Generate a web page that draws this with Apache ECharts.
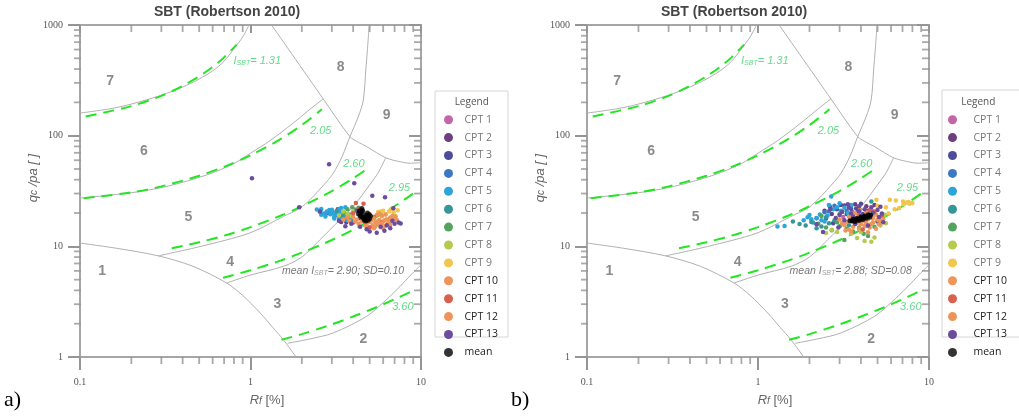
<!DOCTYPE html>
<html><head><meta charset="utf-8">
<script src="https://cdn.jsdelivr.net/npm/echarts@6/dist/echarts.min.js"></script>
<style>html,body{margin:0;padding:0;background:#fff}#c{width:1019px;height:420px}</style>
</head><body><div id="c"></div>
<script>
// ---------- axes / ticks ----------
const xTickValues = [0.1, 1, 10];
const yTickValues = [1, 10, 100, 1000];
const xMinorTicks = [0.2,0.3,0.4,0.5,0.6,0.7,0.8,0.9,2,3,4,5,6,7,8,9];
const yMinorTicks = [2,3,4,5,6,7,8,9,20,30,40,50,60,70,80,90,200,300,400,500,600,700,800,900];

// ---------- SBT zone boundaries [Rf %, qc/pa] ----------
const bnd67 = [[0.1,160],[0.15,175],[0.2,193],[0.3,232],[0.4,275],[0.5,325],[0.6,385],[0.7,470],[0.8,610],[0.9,780],[0.98,1000]];
const bnd56 = [[0.1,27.3],[0.2,30.5],[0.32,34.7],[0.55,44],[0.8,56],[1.0,69.5],[1.3,90],[1.78,130],[2.2,170],[2.67,215]];
const bnd1  = [[0.1,10.7],[0.164,9.6],[0.288,8.2],[0.46,6.6],[0.725,4.66],[0.9,3.6],[1.14,2.5],[1.35,1.85],[1.56,1.43],[1.85,1.0]];
const bnd45 = [[0.288,8.2],[0.506,9.96],[0.99,13.2],[1.557,18.6],[1.95,22.1],[2.23,26.3],[2.8,38.5],[3.06,45.8],[3.45,65],[3.83,98],[4.3,150],[4.59,210],[4.75,400],[4.85,600],[4.97,1000]];
const bnd34 = [[0.725,4.66],[1.0,5.5],[1.56,6.6],[2.0,8.0],[2.56,11.5],[3.35,17.4],[4.01,22.9],[5.0,36],[5.6,46],[6.2,63]];
const bnd23 = [[1.65,1.33],[2.2,1.45],[3.06,1.65],[4.8,2.33],[6.0,3.1],[7.53,4.34],[8.8,5.6],[10,6.8]];
const bnd8  = [[1.33,1000],[2.67,215],[3.83,98],[4.3,87],[4.8,79.7],[5.5,70],[6.29,62.6],[7.4,58.5],[8.62,56.4],[10,57]];

// ---------- I_SBT contours (dashed) ----------
const ic131 = [[0.108,149],[0.2,185],[0.3,229],[0.4,282],[0.5,344],[0.6,418],[0.7,510],[0.83,665]];
const ic205 = [[0.105,27.2],[0.2,30.7],[0.3,34.8],[0.5,43.4],[0.7,52.3],[1.0,66.4],[1.5,93.1],[2.0,124.6],[2.62,173]];
const ic260 = [[0.345,9.6],[0.5,10.9],[0.7,12.5],[1.0,14.9],[1.5,18.9],[2.0,23.0],[3.0,31.6],[4.0,41.2],[4.8,49.7]];
const ic295 = [[0.69,5.2],[1.0,6.08],[1.5,7.43],[2.0,8.76],[3.0,11.4],[4.0,14.1],[5.0,17.0],[6.0,19.9],[7.5,24.7],[9.2,30.7]];
const ic360 = [[1.52,1.43],[2.0,1.61],[3.0,1.97],[4.0,2.32],[5.0,2.66],[6.0,2.99],[7.5,3.49],[9.2,4.06]];

// ---------- text labels ----------
const zoneNames = ['7','8','9','6','5','4','1','3','2'];
const zonePos = [[0.15,308],[3.38,415],[6.29,154],[0.237,71.8],[0.432,18.4],[0.759,7.2],[0.135,5.93],[1.436,3.03],[4.59,1.46]];
const icNames = ['{i|I}{s|SBT}= 1.31','2.05','2.60','2.95','3.60'];
const icPos = [[0.79,476],[2.22,111],[3.47,55.6],[6.43,33.6],[6.73,2.86]];
const meanTextA = 'mean {i|I}{s|SBT}= 2.90; SD=0.10';
const meanTextB = 'mean {i|I}{s|SBT}= 2.88; SD=0.08';
const meanTextPos = [1.52, 5.93];

// ---------- series ----------
const cptNames = ['CPT 1','CPT 2','CPT 3','CPT 4','CPT 5','CPT 6','CPT 7','CPT 8','CPT 9','CPT 10','CPT 11','CPT 12','CPT 13'];
const cptColors = ['#c465a8','#6d3f7f','#4f4c9c','#3c78c2','#2ba5da','#37969a','#55a35f','#b5cb4f','#f2c54c','#ee955a','#d8604f','#ef9459','#6b4d9e'];

// Panel a) points, per CPT
const a_cpt1 = [[3.85,19.4],[4.6,17.1]];
const a_cpt2 = [[3.4,16.6],[3.25,21.6],[4.4,17.9]];
const a_cpt3 = [[3.15,19.2],[3.5,18.2],[4.0,16.4],[3.65,16.5]];
const a_cpt4 = [[3.0,20.9],[3.3,21.2],[3.6,19.6],[2.85,19.9]];
const a_cpt5 = [[2.45,21.5],[2.55,20.5],[2.6,21.8],[2.7,19.8],[2.8,20.6],[2.9,21.3],[2.95,19.5],[3.05,20.2],[3.1,18.6],[3.2,19.8],[3.3,18.2],[3.35,20.5],[3.45,19],[3.55,17.6],[3.6,18.8],[3.7,17.2],[3.1,17.8],[2.75,18.6],[3.8,18.3],[2.6,19.3],[3.0,21.4],[3.3,21.6],[3.4,22.2],[3.6,22.6]];
const a_cpt6 = [[3.45,18.5],[3.75,17.9],[3.2,20.9],[3.9,17.3]];
const a_cpt7 = [[3.95,22.6],[4.3,22.3],[4.1,21.5],[3.7,21.6],[4.5,21.2],[3.55,20.0]];
const a_cpt8 = [[3.5,20.8],[3.7,19.6],[4.0,20.8],[3.9,18.8],[3.3,19.0]];
const a_cpt9 = [[6.0,21.0],[6.5,20.6],[6.9,20.3],[7.3,21.2],[6.2,19.5],[5.6,20.4],[7.0,19.0],[6.7,21.9],[5.8,20.6]];
const a_cpt10 = [[4.2,17.5],[4.5,16.8],[4.8,16.2],[5.1,17.0],[5.4,16.5],[5.7,17.4],[6.0,16.8],[6.3,17.6],[6.6,18.2],[6.9,17.8],[5.2,15.5],[5.6,15.8],[4.6,18.2],[5.9,18.8],[6.4,16.2],[4.9,15.0],[5.3,14.6],[5.8,14.9],[6.2,15.3],[4.0,18.4],[3.8,17.0],[7.1,18.6],[6.7,16.8],[5.0,19.5],[5.5,19.2]];
const a_cpt11 = [[4.15,24.6],[4.6,24.2],[4.3,21.8],[5.3,18.4],[4.7,16.5],[5.9,16.4],[4.0,19.9],[5.0,14.8]];
const a_cpt12 = [[4.3,16.0],[4.7,15.4],[5.0,16.6],[5.3,17.8],[5.6,16.9],[5.9,16.1],[6.1,17.2],[6.5,17.0],[6.8,18.8],[7.2,17.4],[4.4,19.0],[5.7,19.8],[6.2,19.4],[4.1,16.8],[3.7,18.2],[5.4,15.2],[6.0,14.7],[6.6,15.6],[4.9,17.6],[3.5,17.5]];
const a_cpt13 = [[1.02,41.3],[2.89,55.3],[4.06,37.2],[5.18,28.6],[6.15,27.8],[1.93,22.6],[2.56,20.6],[6.88,22.1],[5.0,13.6],[5.5,13.3],[6.1,13.8],[6.6,14.6],[7.0,16.0],[7.4,16.4],[7.6,16.1],[6.8,17.0],[4.4,15.0],[3.9,16.0],[3.6,15.2],[4.8,14.3],[5.8,15.0],[6.3,15.5],[3.3,17.0],[4.2,21.0]];
const a_mean = [[4.3,19.6],[4.45,20.4],[4.5,18.5],[4.6,19.3],[4.7,18.0],[4.8,19.0],[4.9,18.4],[5.0,17.8],[4.65,17.3],[4.85,20.0],[4.4,18.9],[4.55,21.0],[4.95,19.4],[5.05,18.8],[4.75,16.9],[4.6,17.9],[4.9,17.2],[4.35,20.9],[4.5,22.0]];

// Panel b) points, per CPT
const b_cpt1 = [[3.55,20.6],[4.25,16.7],[3.15,18.4],[4.7,20.8]];
const b_cpt2 = [[2.7,19.6],[3.05,23.6],[3.7,24.0],[4.3,23.0],[4.8,23.6],[3.8,17.0],[2.45,21.0],[5.0,16.8]];
const b_cpt3 = [[2.63,22.9],[2.9,21.6],[3.2,23.4],[3.5,21.9],[3.3,19.6],[3.75,22.0],[4.1,19.6],[2.5,17.8],[4.0,24.3],[4.6,19.0],[3.85,20.6],[4.4,21.0],[2.75,16.2]];
const b_cpt4 = [[2.45,20.3],[2.6,20.8],[2.8,23.3],[3.1,20.6],[2.2,17.9],[3.5,22.9],[3.3,21.0]];
const b_cpt5 = [[1.3,15.1],[1.43,15.3],[1.95,18.3],[2.05,17.6],[2.2,18.0],[2.35,17.2],[2.68,28.2],[2.75,21.6],[2.9,22.6],[3.05,21.0],[3.2,22.3],[2.55,19.0],[2.3,19.4],[3.35,20.0],[2.45,16.8],[2.1,16.4],[1.85,17.2],[2.0,19.2],[2.6,23.6],[3.5,23.6],[3.0,24.5]];
const b_cpt6 = [[1.75,15.9],[1.9,15.4],[2.05,16.6],[2.35,15.1],[2.6,16.2],[2.8,17.2],[4.6,25.4],[3.4,15.5],[2.2,14.6],[2.5,18.3],[3.0,15.2],[1.6,16.8]];
const b_cpt7 = [[2.25,16.0],[2.5,14.8],[2.9,16.5],[3.3,14.4],[3.6,13.6],[3.9,14.8],[4.4,12.4],[3.2,11.4],[3.0,19.6],[4.8,15.0],[2.7,14.0],[2.35,18.8],[3.45,17.8],[4.15,13.0]];
const b_cpt8 = [[2.7,14.1],[2.9,13.5],[3.8,11.9],[4.2,11.2],[4.6,11.0],[4.8,12.0],[5.3,17.8],[5.6,16.2],[5.5,19.3],[3.5,13.0],[4.0,13.5],[5.2,15.4],[2.5,13.2]];
const b_cpt9 = [[4.93,26.3],[5.9,26.3],[6.4,25.9],[7.05,25.4],[7.4,24.9],[7.7,24.3],[8.0,24.6],[6.7,22.2],[6.3,21.6],[5.3,18.0],[5.6,22.5],[7.1,24.0],[7.6,25.1],[5.8,19.8],[5.0,23.2]];
const b_cpt10 = [[3.0,17.5],[3.3,16.6],[3.5,17.4],[3.8,16.3],[4.1,16.9],[4.4,17.6],[4.7,16.5],[5.0,17.4],[3.6,15.0],[3.9,14.5],[4.2,15.3],[4.5,14.8],[3.2,15.5],[4.9,19.3],[4.3,20.4],[3.7,19.9],[5.2,17.0],[3.4,14.2]];
const b_cpt11 = [[3.9,19.0],[4.2,18.4],[4.8,20.5],[3.6,16.8],[4.5,21.2],[5.3,18.9],[4.1,14.2]];
const b_cpt12 = [[3.1,16.2],[3.4,18.6],[3.8,18.2],[4.0,15.8],[4.3,16.2],[4.6,15.9],[4.9,14.4],[5.1,15.8],[3.5,13.6],[4.4,13.4],[3.95,21.5],[4.7,18.0],[5.4,17.6],[3.25,13.9]];
const b_cpt13 = [[2.85,18.0],[3.0,19.2],[3.2,17.2],[3.6,18.6],[3.9,20.8],[4.2,21.6],[4.6,22.5],[5.0,21.3],[5.1,18.4],[5.4,16.5],[3.4,22.4],[2.65,21.8],[3.9,23.0],[4.4,15.4],[3.7,15.9],[5.3,19.8],[2.4,13.5],[2.2,15.8],[3.1,20.4],[3.5,19.8],[4.0,18.9],[4.7,20.1],[5.2,22.8],[2.95,14.8],[3.35,24.0]];
const b_mean = [[3.45,17.0],[3.55,16.9],[3.65,17.2],[3.75,17.4],[3.85,17.5],[3.95,17.7],[4.05,17.9],[4.15,18.1],[4.25,18.4],[4.35,18.7],[4.45,18.9],[4.55,19.2],[3.6,17.6],[3.8,17.9],[4.0,18.4],[4.2,18.8],[4.4,19.3],[3.7,16.8],[3.9,17.1],[4.1,17.5],[4.3,17.9],[4.5,18.3]];

const panelAData = [a_cpt1,a_cpt2,a_cpt3,a_cpt4,a_cpt5,a_cpt6,a_cpt7,a_cpt8,a_cpt9,a_cpt10,a_cpt11,a_cpt12,a_cpt13];
const panelBData = [b_cpt1,b_cpt2,b_cpt3,b_cpt4,b_cpt5,b_cpt6,b_cpt7,b_cpt8,b_cpt9,b_cpt10,b_cpt11,b_cpt12,b_cpt13];

// ---------- build ----------
const AX = '#a6a6a6';
const TK = '#959595';
const SANS = 'Liberation Sans, Arial, sans-serif';
const GREEN_LINE = '#22e622';
const GREEN_TXT = '#3ccf6e';
function tickFmt(v){ return v >= 1 ? String(Math.round(v)) : String(+v.toPrecision(2)); }

function xAxisDef(gi, pos){
  const bottom = pos === 'bottom';
  return {type:'log', logBase:10, gridIndex:gi, min:xTickValues[0], max:xTickValues[xTickValues.length-1], position:pos,
    axisLine:{show:true, onZero:false, lineStyle:{color:AX, width:2}},
    axisTick:{show:true, inside:!bottom, length: bottom?13:8, lineStyle:{color:TK, width:2}},
    axisLabel:{show:bottom, margin:20, color:'#555', fontFamily:'Liberation Serif, serif', fontSize:10, showMinLabel:true, showMaxLabel:true, formatter:tickFmt},
    splitLine:{show:false}, minorTick:{show:false}, minorSplitLine:{show:false}};
}
function yAxisDef(gi, pos){
  const left = pos === 'left';
  return {type:'log', logBase:10, gridIndex:gi, min:yTickValues[0], max:yTickValues[yTickValues.length-1], position:pos,
    axisLine:{show:true, onZero:false, lineStyle:{color:AX, width:2}},
    axisTick:{show:true, inside:!left, length:12, lineStyle:{color:TK, width:2}},
    axisLabel:{show:left, margin:17, color:'#555', fontFamily:'Liberation Serif, serif', fontSize:10, showMinLabel:true, showMaxLabel:true, formatter:tickFmt},
    splitLine:{show:false}, minorTick:{show:false}, minorSplitLine:{show:false}};
}

const subRich = {
  i:{fontStyle:'italic', fontSize:11, fontFamily:SANS},
  s:{fontStyle:'italic', fontSize:7, fontFamily:SANS, verticalAlign:'bottom', padding:[4,0,0,0]},
};

function tickSeries(base, data, size, offset){
  return Object.assign({type:'scatter', data:data, symbol:'rect', symbolSize:size, symbolOffset:offset, clip:false,
    itemStyle:{color:TK}, z:3}, base);
}

function panelSeries(gi, data, meanData, meanText){
  const xi = gi*2, yi = gi*2;
  const S = [];
  const base = {xAxisIndex:xi, yAxisIndex:yi, silent:true, animation:false};
  const y0 = yTickValues[0], y1 = yTickValues[yTickValues.length-1];
  const x0 = xTickValues[0], x1 = xTickValues[xTickValues.length-1];
  // minor ticks on the four frame sides
  S.push(tickSeries(base, xMinorTicks.map(v=>[v,y0]), [1.8,7], [0,3.5]));
  S.push(tickSeries(base, xMinorTicks.map(v=>[v,y1]), [1.8,7], [0,3.5]));
  S.push(tickSeries(base, yMinorTicks.map(v=>[x0,v]), [7,1.8], [-2.5,0]));
  S.push(tickSeries(base, yMinorTicks.map(v=>[x1,v]), [8,1.8], [-3,0]));
  [bnd67,bnd56,bnd1,bnd45,bnd34,bnd23,bnd8].forEach(d=>{
    S.push(Object.assign({type:'line', data:d, smooth:0.3, symbol:'none', lineStyle:{color:'#b0b0b0', width:1}, z:2}, base));
  });
  [ic131,ic205,ic260,ic295,ic360].forEach(d=>{
    S.push(Object.assign({type:'line', data:d, smooth:0.3, symbol:'none', lineStyle:{color:GREEN_LINE, width:2, type:[11,7]}, z:3}, base));
  });
  S.push(Object.assign({type:'scatter', symbolSize:1, itemStyle:{color:'transparent'}, z:4,
    data: zonePos.map((p,i)=>({value:p, name:zoneNames[i]})),
    label:{show:true, position:'inside', formatter:'{b}', color:'#6e6e6e', fontSize:14, fontWeight:'bold', fontFamily:SANS}}, base));
  S.push(Object.assign({type:'scatter', symbolSize:1, itemStyle:{color:'transparent'}, z:4,
    data: icPos.map((p,i)=>({value:p, name:icNames[i]})),
    label:{show:true, position:'right', distance:0, formatter:'{b}', color:GREEN_TXT, fontSize:11, fontStyle:'italic', fontFamily:SANS,
      rich:{i:Object.assign({color:GREEN_TXT}, subRich.i), s:Object.assign({color:GREEN_TXT}, subRich.s)}}}, base));
  S.push(Object.assign({type:'scatter', symbolSize:1, itemStyle:{color:'transparent'}, z:4,
    data:[{value:meanTextPos, name:meanText}],
    label:{show:true, position:'right', distance:0, formatter:'{b}', color:'#555', fontSize:10.5, fontStyle:'italic', fontFamily:SANS,
      rich:{i:Object.assign({color:'#555'}, subRich.i, {fontSize:10.5}), s:Object.assign({color:'#888'}, subRich.s)}}}, base));
  data.forEach((d,i)=>{
    S.push(Object.assign({type:'scatter', name:cptNames[i], data:d, symbol:'circle', symbolSize:4.5, itemStyle:{color:cptColors[i], opacity:1}, z:5}, base));
  });
  S.push(Object.assign({type:'scatter', name:'mean', data:meanData, symbol:'circle', symbolSize:5, itemStyle:{color:'#000'}, z:6}, base));
  return S;
}

const legendNames = cptNames.concat(['mean']);
function legendDef(left, padLeft){
  return {show:true, orient:'vertical', left:left, top:114.2, padding:0, itemWidth:22, itemHeight:9, itemGap:6.9,
    icon:'circle', selectedMode:false,
    data: legendNames.map((n,i)=>({name:n, textStyle:{color: i>=9 ? '#222' : '#777'}})),
    textStyle:{fontFamily:'Open Sans, sans-serif', fontSize:10.5, lineHeight:9, padding:[0,0,0,padLeft]}};
}

const yNameRich = {q:{fontStyle:'italic', fontSize:13, fill:'#666', fontFamily:SANS}, s:{fontStyle:'italic', fontSize:10, fill:'#666', fontFamily:SANS, verticalAlign:'bottom'}, t:{fontStyle:'italic', fontSize:13, fill:'#666', fontFamily:SANS}};
const xNameRich = {r:{fontStyle:'italic', fontSize:13, fill:'#666', fontFamily:SANS}, f:{fontStyle:'italic', fontSize:10, fill:'#666', fontFamily:SANS, verticalAlign:'bottom'}};
const baseGraphic = [
  {type:'rect', shape:{x:435, y:91, width:73, height:246}, style:{fill:'#fff', stroke:'#d6d6d6', lineWidth:1}, z:0, silent:true},
  {type:'rect', shape:{x:942, y:90, width:90, height:247}, style:{fill:'#fff', stroke:'#d6d6d6', lineWidth:1}, z:0, silent:true},
  {type:'text', x:471.7, y:102.3, style:{text:'Legend', fill:'#555', font:'10px Open Sans, sans-serif', textAlign:'center', textVerticalAlign:'middle'}, z:1, silent:true},
  {type:'text', x:978.3, y:102.3, style:{text:'Legend', fill:'#555', font:'10px Open Sans, sans-serif', textAlign:'center', textVerticalAlign:'middle'}, z:1, silent:true},
  {type:'text', x:227, y:12, style:{text:'SBT (Robertson 2010)', fill:'#444', font:'bold 14px '+SANS, textAlign:'center', textVerticalAlign:'middle'}, silent:true},
  {type:'text', x:734, y:12, style:{text:'SBT (Robertson 2010)', fill:'#444', font:'bold 14px '+SANS, textAlign:'center', textVerticalAlign:'middle'}, silent:true},
  {type:'text', x:33, y:178, rotation:Math.PI/2, style:{text:'{q|q}{s|c} /p{t|a} [ ]', fill:'#666', font:'italic 13px '+SANS, textAlign:'center', textVerticalAlign:'middle', rich:yNameRich}, silent:true},
  {type:'text', x:540, y:178, rotation:Math.PI/2, style:{text:'{q|q}{s|c} /p{t|a} [ ]', fill:'#666', font:'italic 13px '+SANS, textAlign:'center', textVerticalAlign:'middle', rich:yNameRich}, silent:true},
  {type:'text', x:267, y:400, style:{text:'{r|R}{f|f} [%]', fill:'#666', font:'13px '+SANS, textAlign:'center', textVerticalAlign:'middle', rich:xNameRich}, silent:true},
  {type:'text', x:775, y:400, style:{text:'{r|R}{f|f} [%]', fill:'#666', font:'13px '+SANS, textAlign:'center', textVerticalAlign:'middle', rich:xNameRich}, silent:true},
  {type:'text', x:4, y:400, style:{text:'a)', fill:'#000', font:'22px Liberation Serif, serif', textAlign:'left', textVerticalAlign:'middle'}, silent:true},
  {type:'text', x:511, y:400, style:{text:'b)', fill:'#000', font:'22px Liberation Serif, serif', textAlign:'left', textVerticalAlign:'middle'}, silent:true}
];

const chart = echarts.init(document.getElementById('c'), null, {renderer:'canvas'});
chart.setOption({
  animation:false,
  backgroundColor:'#fff',
  grid:[{left:80, top:25, width:341, height:332, outerBoundsMode:'none'},{left:587, top:25, width:342, height:332, outerBoundsMode:'none'}],
  xAxis:[xAxisDef(0,'bottom'), xAxisDef(0,'top'), xAxisDef(1,'bottom'), xAxisDef(1,'top')],
  yAxis:[yAxisDef(0,'left'), yAxisDef(0,'right'), yAxisDef(1,'left'), yAxisDef(1,'right')],
  legend:[legendDef(444,0), legendDef(948,5)],
  series: panelSeries(0, panelAData, a_mean, meanTextA).concat(panelSeries(1, panelBData, b_mean, meanTextB)),
  graphic: baseGraphic
});
</script>
</body></html>
